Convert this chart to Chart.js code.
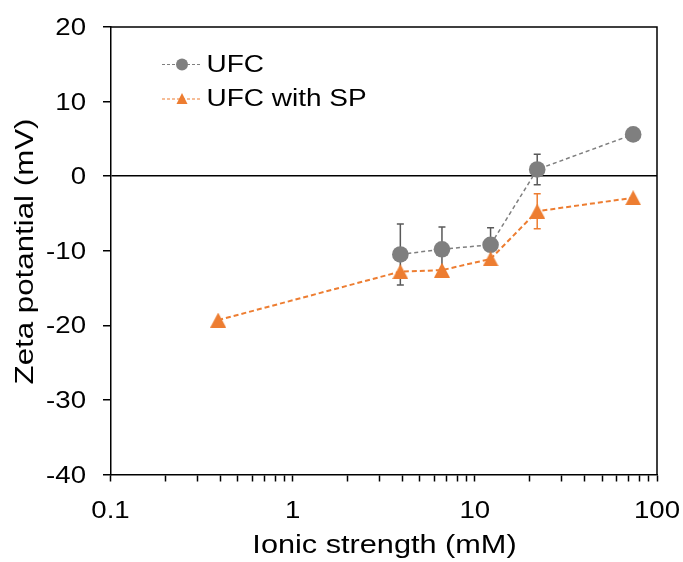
<!DOCTYPE html>
<html>
<head>
<meta charset="utf-8">
<script src="https://cdn.jsdelivr.net/npm/chart.js@4.4.1/dist/chart.umd.min.js"></script>
<style>
  html, body { margin: 0; padding: 0; background: #fff; }
  #wrap { width: 683px; height: 562px; }
</style>
</head>
<body>
<div id="wrap"><canvas id="zeta" width="683" height="562"></canvas></div>
<script>
// Ionic strength (mM) and zeta potential (mV) with standard deviations
const ufcStrength = [3.9, 6.6, 12.2, 22, 74];
const ufcZeta     = [-10.5, -9.8, -9.2, 0.9, 5.6];
const ufcError    = [4.1, 3.0, 2.3, 2.05, 0.5];

const spStrength  = [0.39, 3.9, 6.6, 12.2, 22, 74];
const spZeta      = [-19.3, -12.8, -12.6, -11.1, -4.7, -2.9];
const spError     = [0, 0, 0, 0, 2.35, 0];

const seriesNames = ['UFC', 'UFC with SP'];
const xTickLabels = ['0.1', '1', '10', '100'];
const yTickValues = [-40, -30, -20, -10, 0, 10, 20];
const xTitle = 'Ionic strength (mM)';
const yTitle = 'Zeta potantial (mV)';

const GREY = '#7f7f7f';
const GREY_DARK = '#595959';
const ORANGE = '#ed7d31';
const FONT = '"Liberation Sans", Arial, sans-serif';

// Triangle marker centred on its bounding box
function triangleMarker(w, h, color) {
  const c = document.createElement('canvas');
  c.width = w; c.height = h;
  const g = c.getContext('2d');
  g.fillStyle = color;
  g.beginPath();
  g.moveTo(w / 2, 0);
  g.lineTo(w, h);
  g.lineTo(0, h);
  g.closePath();
  g.fill();
  return c;
}
const triBig = triangleMarker(16, 15, ORANGE);

// Log-axis tick values: every integer multiple inside each decade
const xTickValues = [];
[0.1, 1, 10].forEach(d => { for (let m = 1; m <= 9; m++) xTickValues.push(+(d * m).toPrecision(3)); });
xTickValues.push(100);

function drawText(ctx, str, x, y, size, align, sx, angle) {
  ctx.save();
  ctx.translate(x, y);
  if (angle) ctx.rotate(angle);
  ctx.scale(sx, 1);
  ctx.font = size + 'px ' + FONT;
  ctx.fillStyle = '#000';
  ctx.textAlign = align;
  ctx.textBaseline = 'alphabetic';
  ctx.fillText(str, 0, 0);
  ctx.restore();
}

const decorations = {
  id: 'decorations',
  beforeDatasetsDraw(chart) {
    const { ctx, scales: { x, y } } = chart;
    // error bars, behind the markers
    const sets = [
      { xs: ufcStrength, ys: ufcZeta, es: ufcError, color: GREY_DARK },
      { xs: spStrength, ys: spZeta, es: spError, color: ORANGE }
    ];
    ctx.save();
    ctx.lineWidth = 1.5;
    sets.forEach(s => {
      ctx.strokeStyle = s.color;
      s.xs.forEach((xv, i) => {
        if (!s.es[i]) return;
        const px = x.getPixelForValue(xv);
        const top = y.getPixelForValue(s.ys[i] + s.es[i]);
        const bot = y.getPixelForValue(s.ys[i] - s.es[i]);
        ctx.beginPath();
        ctx.moveTo(px, top); ctx.lineTo(px, bot);
        ctx.moveTo(px - 3.5, top); ctx.lineTo(px + 3.5, top);
        ctx.moveTo(px - 3.5, bot); ctx.lineTo(px + 3.5, bot);
        ctx.stroke();
      });
    });
    ctx.restore();
  },
  afterDraw(chart) {
    const { ctx, chartArea: a, scales: { x, y } } = chart;
    ctx.save();
    // top and right frame
    ctx.strokeStyle = '#000';
    ctx.lineWidth = 1.5;
    ctx.beginPath();
    ctx.moveTo(a.left, a.top); ctx.lineTo(a.right, a.top); ctx.lineTo(a.right, a.bottom);
    ctx.stroke();

    // tick labels
    yTickValues.forEach(v => {
      drawText(ctx, String(v), 86, y.getPixelForValue(v) + 8, 23, 'right', 1.2);
    });
    xTickLabels.forEach(t => {
      drawText(ctx, t, x.getPixelForValue(parseFloat(t)), 518, 23, 'center', 1.2);
    });

    // axis titles
    drawText(ctx, xTitle, 384.5, 552.5, 26, 'center', 1.18);
    drawText(ctx, yTitle, 32.5, 251.5, 26.5, 'center', 1.18, -Math.PI / 2);

    // legend
    const rows = [
      { y: 64.5, color: GREY, lw: 1, dash: [3, 2], marker: 'circle' },
      { y: 99, color: ORANGE, lw: 1.2, dash: [3, 2], marker: 'triangle' }
    ];
    rows.forEach((r, i) => {
      ctx.save();
      ctx.strokeStyle = r.color;
      ctx.lineWidth = r.lw;
      ctx.setLineDash(r.dash);
      ctx.beginPath();
      ctx.moveTo(162, r.y); ctx.lineTo(202, r.y);
      ctx.stroke();
      ctx.setLineDash([]);
      ctx.fillStyle = r.color;
      ctx.beginPath();
      if (r.marker === 'circle') {
        ctx.arc(182, r.y, 6, 0, Math.PI * 2);
      } else {
        ctx.moveTo(182, r.y - 6);
        ctx.lineTo(187.5, r.y + 5);
        ctx.lineTo(176.5, r.y + 5);
        ctx.closePath();
      }
      ctx.fill();
      ctx.restore();
      drawText(ctx, seriesNames[i], 206.5, r.y + 7, 23.5, 'left', 1.19);
    });
    ctx.restore();
  }
};

const chart = new Chart(document.getElementById('zeta'), {
  type: 'line',
  data: {
    datasets: [
      {
        label: seriesNames[0],
        data: ufcStrength.map((v, i) => ({ x: v, y: ufcZeta[i] })),
        borderColor: GREY,
        borderWidth: 1.5,
        borderDash: [4, 3],
        pointStyle: 'circle',
        pointRadius: 8.3,
        pointBackgroundColor: GREY,
        pointBorderWidth: 0,
        order: 2
      },
      {
        label: seriesNames[1],
        data: spStrength.map((v, i) => ({ x: v, y: spZeta[i] })),
        borderColor: ORANGE,
        borderWidth: 2,
        borderDash: [5, 3],
        pointStyle: triBig,
        pointRadius: 8,
        pointBackgroundColor: ORANGE,
        pointBorderWidth: 0,
        order: 1
      }
    ]
  },
  options: {
    responsive: false,
    animation: false,
    devicePixelRatio: 1,
    layout: { padding: { top: 27, right: 26, left: 0, bottom: 0 } },
    plugins: { legend: { display: false }, tooltip: { enabled: false } },
    scales: {
      x: {
        type: 'logarithmic',
        min: 0.1,
        max: 100,
        afterBuildTicks: s => { s.ticks = xTickValues.map(v => ({ value: v })); },
        afterFit: s => { s.height = 87.5; },
        ticks: { display: false },
        grid: { drawOnChartArea: false, drawTicks: true, tickLength: 7, tickColor: '#000', tickWidth: 1.5 },
        border: { display: true, color: '#000', width: 1.5 }
      },
      y: {
        min: -40,
        max: 20,
        afterBuildTicks: s => { s.ticks = yTickValues.map(v => ({ value: v })); },
        afterFit: s => { s.width = 110.5; },
        ticks: { display: false },
        grid: {
          drawOnChartArea: true,
          drawTicks: true,
          tickLength: 7.5,
          tickColor: '#000',
          tickWidth: 1.5,
          color: c => (c.tick && c.tick.value === 0 ? '#000' : 'rgba(0,0,0,0)'),
          lineWidth: 1.5
        },
        border: { display: true, color: '#000', width: 1.5 }
      }
    }
  },
  plugins: [decorations]
});
</script>
</body>
</html>
